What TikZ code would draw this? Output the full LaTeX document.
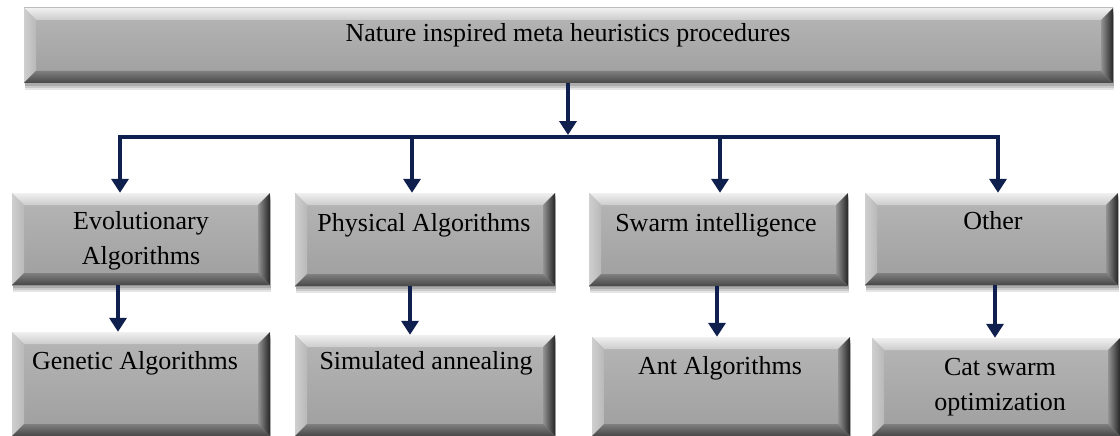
\documentclass[tikz,border=0pt]{standalone}
\usepackage{fontspec}
\setmainfont{Liberation Serif}
\usetikzlibrary{arrows.meta,shadows,calc}
\definecolor{navy}{RGB}{16,32,78}
\definecolor{face}{RGB}{172,172,172}
\tikzset{
  bevelbox/.style={rectangle, inner sep=0pt, draw=none,
    top color=face!88!white, bottom color=face!92!black,
    drop shadow={shadow xshift=1pt, shadow yshift=-7pt, shadow scale=1.0, opacity=.10, fill=black},
    drop shadow={shadow xshift=1pt, shadow yshift=-5pt, opacity=.12, fill=black},
    drop shadow={shadow xshift=1pt, shadow yshift=-3pt, opacity=.15, fill=black},
    path picture={
      \def\bw{12pt}
      \coordinate (NW) at (path picture bounding box.north west);
      \coordinate (NE) at (path picture bounding box.north east);
      \coordinate (SW) at (path picture bounding box.south west);
      \coordinate (SE) at (path picture bounding box.south east);
      \shade[top color=gray!12, bottom color=gray!40]
        (NW) -- (NE) -- ($(NE)+(-\bw,-\bw)$) -- ($(NW)+(\bw,-\bw)$) -- cycle;
      \shade[left color=gray!38, right color=gray!55]
        (NW) -- ($(NW)+(\bw,-\bw)$) -- ($(SW)+(\bw,\bw)$) -- (SW) -- cycle;
      \shade[left color=gray!85, right color=black!85]
        (NE) -- ($(NE)+(-\bw,-\bw)$) -- ($(SE)+(-\bw,\bw)$) -- (SE) -- cycle;
      \shade[top color=black!50, bottom color=black!72]
        (SW) -- ($(SW)+(\bw,\bw)$) -- ($(SE)+(-\bw,\bw)$) -- (SE) -- cycle;
    }},
  lbl/.style={inner sep=0pt, font=\fontsize{26}{35}\selectfont, align=center},
  conn/.style={draw=navy, line width=3.6pt, line join=miter},
  tipd/.tip={Triangle[width=17pt,length=14pt]}
}
\begin{document}
\begin{tikzpicture}[x=1pt,y=-1pt]
\useasboundingbox (0,0) rectangle (1120,436);
\fill[white] (0,0) rectangle (1120,436);
% boxes
\node[bevelbox, minimum width=1089pt, minimum height=75pt] (top) at (568.5,45.5) {};
\node[bevelbox, minimum width=258pt, minimum height=92pt] (a1) at (141,239) {};
\node[bevelbox, minimum width=260pt, minimum height=93pt] (a2) at (425,239.5) {};
\node[bevelbox, minimum width=259pt, minimum height=93pt] (a3) at (718.5,239.5) {};
\node[bevelbox, minimum width=253pt, minimum height=92pt] (a4) at (991.5,239) {};
\node[bevelbox, minimum width=258pt, minimum height=104pt] (b1) at (141,384) {};
\node[bevelbox, minimum width=260pt, minimum height=101pt] (b2) at (425,385.5) {};
\node[bevelbox, minimum width=258pt, minimum height=99pt] (b3) at (721,386.5) {};
\node[bevelbox, minimum width=248pt, minimum height=98pt] (b4) at (996,387) {};
% labels
\node[lbl, anchor=base] (ttop) at (568,42) {Nature inspired meta heuristics procedures};
\node[lbl] (ta1) at (141,241) {Evolutionary\\Algorithms};
\node[lbl, anchor=base] (ta2) at (424,231) {Physical Algorithms};
\node[lbl, anchor=base] (ta3) at (716,231) {Swarm intelligence};
\node[lbl, anchor=base] (ta4) at (993,229) {Other};
\node[lbl, anchor=base] (tb1) at (135,369) {Genetic Algorithms};
\node[lbl, anchor=base] (tb2) at (426,369) {Simulated annealing};
\node[lbl, anchor=base] (tb3) at (720,374) {Ant Algorithms};
\node[lbl] (tb4) at (1000,387) {Cat swarm\\optimization};
% connectors
\coordinate (hub) at (568,135);
\coordinate (busL) at (120,137);
\coordinate (busR) at (998,137);
\coordinate (bus2) at (412,137);
\coordinate (bus3) at (720,137);
\draw[conn, -{tipd}] (hub |- top.south) -- (hub);
\draw[conn, {tipd}-{tipd}] (busL |- a1.north) -- (busL) -- (busR) -- (busR |- a4.north);
\draw[conn, -{tipd}] (bus2) -- (bus2 |- a2.north);
\draw[conn, -{tipd}] (bus3) -- (bus3 |- a3.north);
\draw[conn, -{tipd}] ([xshift=-23pt]a1.south) -- ([xshift=-23pt]a1.south |- b1.north);
\draw[conn, -{tipd}] ([xshift=-15pt]a2.south) -- ([xshift=-15pt]a2.south |- b2.north);
\draw[conn, -{tipd}] ([xshift=-1.5pt]a3.south) -- ([xshift=-1.5pt]a3.south |- b3.north);
\draw[conn, -{tipd}] ([xshift=3.5pt]a4.south) -- ([xshift=3.5pt]a4.south |- b4.north);
\end{tikzpicture}
\end{document}
